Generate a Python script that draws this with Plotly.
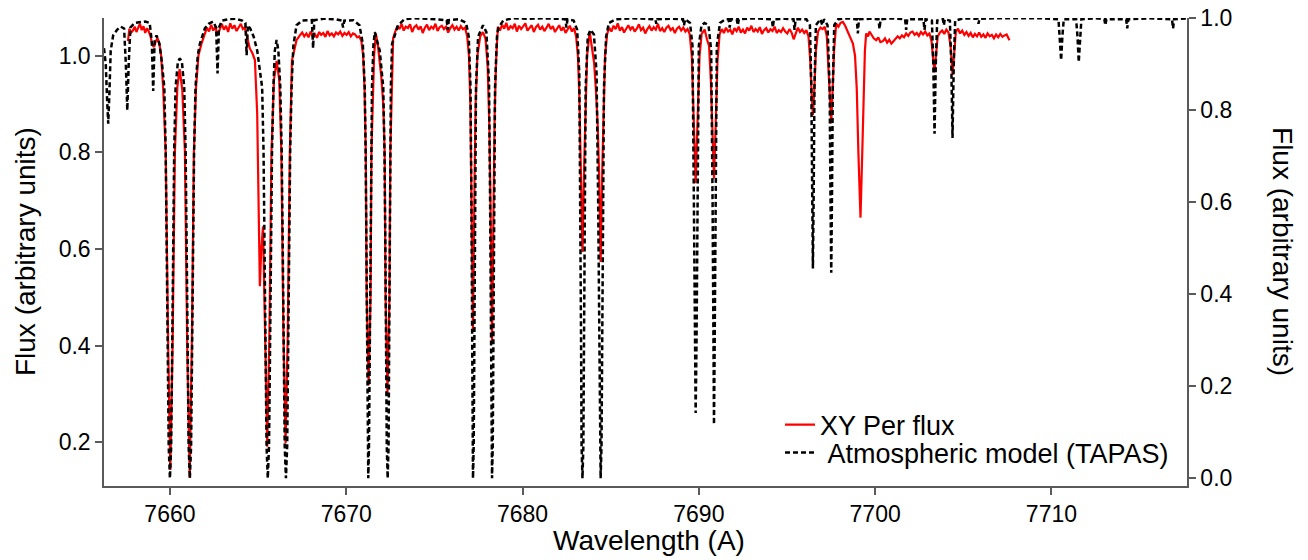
import plotly.graph_objects as go

# ---------------- data ----------------
x_ticks = [7660, 7670, 7680, 7690, 7700, 7710]
left_ticks = [0.2, 0.4, 0.6, 0.8, 1.0]
right_ticks = [0.0, 0.2, 0.4, 0.6, 0.8, 1.0]

red_wavelength = [
    7657.62, 7657.70, 7657.80, 7657.90, 7658.00, 7658.10, 7658.20, 7658.30, 7658.40, 7658.50,
    7658.60, 7658.70, 7658.80, 7658.90, 7659.00, 7659.10, 7659.20, 7659.30, 7659.40, 7659.50,
    7659.62, 7659.76, 7659.90, 7660.02, 7660.15, 7660.28, 7660.42, 7660.55, 7660.70, 7660.85,
    7660.98, 7661.12, 7661.24, 7661.36, 7661.48, 7661.62, 7661.79, 7661.98, 7662.10, 7662.22,
    7662.34, 7662.46, 7662.58, 7662.70, 7662.82, 7662.94, 7663.06, 7663.18, 7663.30, 7663.42,
    7663.54, 7663.66, 7663.78, 7663.90, 7664.02, 7664.14, 7664.25, 7664.40, 7664.53, 7664.68,
    7664.82, 7664.95, 7665.03, 7665.10, 7665.18, 7665.28, 7665.40, 7665.52, 7665.64, 7665.76,
    7665.90, 7666.05, 7666.20, 7666.32, 7666.44, 7666.56, 7666.68, 7666.80, 7666.92, 7667.18,
    7667.37, 7667.50, 7667.62, 7667.74, 7667.86, 7667.98, 7668.10, 7668.22, 7668.34, 7668.46,
    7668.58, 7668.70, 7668.82, 7668.94, 7669.06, 7669.18, 7669.30, 7669.42, 7669.54, 7669.66,
    7669.78, 7669.90, 7670.02, 7670.14, 7670.26, 7670.38, 7670.50, 7670.62, 7670.74, 7670.86,
    7670.96, 7671.04, 7671.11, 7671.16, 7671.27, 7671.38, 7671.43, 7671.50, 7671.58, 7671.68,
    7671.80, 7671.98, 7672.10, 7672.18, 7672.23, 7672.34, 7672.45, 7672.50, 7672.58, 7672.66,
    7672.78, 7672.90, 7673.02, 7673.14, 7673.26, 7673.38, 7673.50, 7673.62, 7673.74, 7673.86,
    7673.98, 7674.10, 7674.22, 7674.34, 7674.46, 7674.58, 7674.70, 7674.82, 7674.94, 7675.06,
    7675.18, 7675.30, 7675.42, 7675.54, 7675.66, 7675.78, 7675.90, 7676.02, 7676.14, 7676.26,
    7676.38, 7676.50, 7676.62, 7676.74, 7676.86, 7676.96, 7677.04, 7677.10, 7677.19, 7677.28,
    7677.34, 7677.44, 7677.60, 7677.76, 7677.90, 7678.02, 7678.12, 7678.18, 7678.27, 7678.36,
    7678.42, 7678.50, 7678.60, 7678.72, 7678.84, 7678.96, 7679.08, 7679.20, 7679.32, 7679.44,
    7679.56, 7679.68, 7679.80, 7679.92, 7680.04, 7680.16, 7680.28, 7680.40, 7680.52, 7680.64,
    7680.76, 7680.88, 7681.00, 7681.12, 7681.24, 7681.36, 7681.48, 7681.60, 7681.72, 7681.84,
    7681.96, 7682.08, 7682.20, 7682.32, 7682.44, 7682.56, 7682.68, 7682.80, 7682.92, 7683.04,
    7683.14, 7683.22, 7683.30, 7683.40, 7683.50, 7683.58, 7683.66, 7683.81, 7683.94, 7684.06,
    7684.16, 7684.26, 7684.34, 7684.43, 7684.52, 7684.60, 7684.68, 7684.80, 7684.92, 7685.04,
    7685.16, 7685.28, 7685.40, 7685.52, 7685.64, 7685.76, 7685.88, 7686.00, 7686.12, 7686.24,
    7686.36, 7686.48, 7686.60, 7686.72, 7686.84, 7686.96, 7687.08, 7687.20, 7687.32, 7687.44,
    7687.56, 7687.68, 7687.80, 7687.92, 7688.04, 7688.16, 7688.28, 7688.40, 7688.52, 7688.64,
    7688.76, 7688.88, 7689.00, 7689.12, 7689.24, 7689.36, 7689.48, 7689.60, 7689.70, 7689.82,
    7689.94, 7690.04, 7690.16, 7690.33, 7690.46, 7690.58, 7690.68, 7690.76, 7690.86, 7690.96,
    7691.06, 7691.18, 7691.30, 7691.42, 7691.54, 7691.66, 7691.78, 7691.90, 7692.02, 7692.14,
    7692.26, 7692.38, 7692.50, 7692.62, 7692.74, 7692.86, 7692.98, 7693.10, 7693.22, 7693.34,
    7693.46, 7693.58, 7693.70, 7693.82, 7693.94, 7694.06, 7694.18, 7694.30, 7694.42, 7694.54,
    7694.66, 7694.78, 7694.90, 7695.02, 7695.14, 7695.26, 7695.38, 7695.50, 7695.62, 7695.74,
    7695.86, 7695.98, 7696.10, 7696.22, 7696.32, 7696.40, 7696.47, 7696.55, 7696.64, 7696.76,
    7696.90, 7697.02, 7697.14, 7697.26, 7697.36, 7697.44, 7697.51, 7697.58, 7697.67, 7697.79,
    7697.92, 7698.04, 7698.17, 7698.30, 7698.45, 7698.60, 7698.74, 7698.86, 7698.96, 7699.05,
    7699.17, 7699.27, 7699.35, 7699.42, 7699.49, 7699.60, 7699.68, 7699.80, 7699.92, 7700.06,
    7700.18, 7700.30, 7700.44, 7700.56, 7700.68, 7700.80, 7700.92, 7701.04, 7701.16, 7701.28,
    7701.40, 7701.52, 7701.64, 7701.76, 7701.88, 7702.00, 7702.12, 7702.24, 7702.36, 7702.48,
    7702.60, 7702.72, 7702.84, 7702.96, 7703.08, 7703.20, 7703.30, 7703.37, 7703.45, 7703.55,
    7703.68, 7703.80, 7703.92, 7704.04, 7704.16, 7704.28, 7704.39, 7704.48, 7704.58, 7704.70,
    7704.82, 7704.94, 7705.06, 7705.18, 7705.30, 7705.42, 7705.54, 7705.66, 7705.78, 7705.90,
    7706.02, 7706.14, 7706.26, 7706.38, 7706.50, 7706.62, 7706.74, 7706.86, 7706.98, 7707.10,
    7707.22, 7707.34, 7707.46, 7707.62,
]

red_flux = [
    1.030, 1.056, 1.048, 1.052, 1.060, 1.049, 1.058, 1.066, 1.053, 1.061,
    1.047, 1.057, 1.050, 1.040, 1.022, 1.018, 1.030, 1.036, 1.025, 1.000,
    0.930, 0.800, 0.400, 0.143, 0.400, 0.800, 0.935, 0.972, 0.930, 0.800,
    0.400, 0.126, 0.400, 0.800, 0.935, 1.001, 1.025, 1.046, 1.058, 1.050,
    1.064, 1.052, 1.060, 1.042, 1.055, 1.066, 1.054, 1.062, 1.049, 1.067,
    1.056, 1.063, 1.051, 1.060, 1.066, 1.055, 1.058, 1.035, 1.015, 1.005,
    0.991, 0.880, 0.700, 0.523, 0.600, 0.647, 0.420, 0.191, 0.420, 0.800,
    0.950, 0.989, 0.950, 0.800, 0.420, 0.198, 0.420, 0.800, 0.990, 1.032,
    1.042, 1.048, 1.040, 1.046, 1.038, 1.050, 1.041, 1.045, 1.037, 1.049,
    1.043, 1.047, 1.039, 1.051, 1.042, 1.046, 1.040, 1.048, 1.044, 1.050,
    1.041, 1.047, 1.043, 1.049, 1.040, 1.046, 1.044, 1.038, 1.040, 1.030,
    1.000, 0.930, 0.800, 0.500, 0.318, 0.500, 0.800, 0.930, 1.000, 1.046,
    1.020, 0.960, 0.900, 0.800, 0.500, 0.301, 0.500, 0.800, 0.940, 1.036,
    1.050, 1.061, 1.055, 1.066, 1.052, 1.060, 1.057, 1.065, 1.049, 1.059,
    1.063, 1.054, 1.061, 1.047, 1.058, 1.064, 1.053, 1.060, 1.056, 1.066,
    1.051, 1.059, 1.062, 1.055, 1.060, 1.048, 1.057, 1.063, 1.054, 1.060,
    1.052, 1.061, 1.055, 1.058, 1.040, 1.000, 0.900, 0.750, 0.429, 0.750,
    0.900, 1.000, 1.040, 1.049, 1.035, 0.980, 0.850, 0.700, 0.408, 0.700,
    0.880, 0.990, 1.060, 1.052, 1.064, 1.056, 1.068, 1.053, 1.061, 1.057,
    1.066, 1.050, 1.062, 1.055, 1.060, 1.067, 1.052, 1.058, 1.063, 1.049,
    1.059, 1.064, 1.054, 1.060, 1.051, 1.058, 1.066, 1.055, 1.061, 1.049,
    1.057, 1.063, 1.052, 1.059, 1.047, 1.056, 1.062, 1.050, 1.057, 1.040,
    1.000, 0.920, 0.780, 0.594, 0.780, 0.920, 1.000, 1.049, 1.020, 0.985,
    0.930, 0.860, 0.760, 0.573, 0.760, 0.900, 1.000, 1.045, 1.058, 1.050,
    1.062, 1.055, 1.067, 1.052, 1.059, 1.048, 1.057, 1.063, 1.054, 1.060,
    1.050, 1.056, 1.065, 1.053, 1.058, 1.046, 1.055, 1.061, 1.052, 1.059,
    1.054, 1.066, 1.051, 1.057, 1.049, 1.058, 1.062, 1.053, 1.057, 1.047,
    1.056, 1.060, 1.052, 1.058, 1.050, 1.055, 1.045, 1.000, 0.880, 0.736,
    0.880, 1.000, 1.045, 1.054, 1.034, 1.020, 0.950, 0.860, 0.746, 0.860,
    0.990, 1.045, 1.055, 1.047, 1.058, 1.050, 1.054, 1.044, 1.057, 1.051,
    1.060, 1.048, 1.054, 1.046, 1.058, 1.052, 1.062, 1.049, 1.055, 1.050,
    1.059, 1.045, 1.053, 1.057, 1.048, 1.055, 1.051, 1.060, 1.047, 1.053,
    1.049, 1.057, 1.050, 1.046, 1.055, 1.048, 1.034, 1.046, 1.058, 1.049,
    1.054, 1.047, 1.053, 1.040, 0.990, 0.920, 0.877, 0.930, 1.010, 1.050,
    1.058, 1.055, 1.060, 1.040, 0.960, 0.900, 0.860, 0.920, 1.010, 1.066,
    1.060, 1.068, 1.070, 1.062, 1.049, 1.035, 1.025, 1.000, 0.930, 0.800,
    0.665, 0.800, 0.930, 1.010, 1.046, 1.040, 1.050, 1.042, 1.036, 1.032,
    1.038, 1.028, 1.030, 1.036, 1.027, 1.033, 1.025, 1.030, 1.034, 1.040,
    1.036, 1.042, 1.038, 1.046, 1.041, 1.048, 1.050, 1.043, 1.047, 1.041,
    1.049, 1.044, 1.050, 1.042, 1.046, 1.030, 0.990, 0.966, 1.000, 1.040,
    1.048, 1.052, 1.045, 1.054, 1.048, 1.020, 0.960, 1.010, 1.050, 1.056,
    1.046, 1.052, 1.043, 1.049, 1.041, 1.047, 1.038, 1.045, 1.040, 1.048,
    1.039, 1.044, 1.037, 1.046, 1.040, 1.043, 1.036, 1.044, 1.038, 1.045,
    1.039, 1.042, 1.044, 1.032,
]

model_wavelength = [
    7656.26, 7656.36, 7656.44, 7656.50, 7656.56, 7656.64, 7656.78, 7657.00, 7657.20, 7657.40,
    7657.50, 7657.58, 7657.66, 7657.76, 7658.00, 7658.30, 7658.60, 7658.85, 7658.97, 7659.05,
    7659.13, 7659.24, 7659.40, 7659.53, 7659.68, 7659.76, 7659.82, 7659.88, 7659.93, 7660.00,
    7660.07, 7660.12, 7660.18, 7660.24, 7660.32, 7660.45, 7660.56, 7660.68, 7660.81, 7660.89,
    7660.95, 7661.01, 7661.06, 7661.13, 7661.20, 7661.25, 7661.31, 7661.37, 7661.45, 7661.58,
    7661.70, 7661.98, 7662.20, 7662.45, 7662.62, 7662.70, 7662.78, 7662.95, 7663.30, 7663.70,
    7664.10, 7664.28, 7664.35, 7664.42, 7664.55, 7664.75, 7664.95, 7665.10, 7665.23, 7665.31,
    7665.37, 7665.43, 7665.48, 7665.55, 7665.62, 7665.67, 7665.73, 7665.79, 7665.87, 7665.95,
    7666.05, 7666.15, 7666.26, 7666.34, 7666.40, 7666.46, 7666.51, 7666.58, 7666.65, 7666.70,
    7666.76, 7666.82, 7666.90, 7667.00, 7667.18, 7667.50, 7668.05, 7668.12, 7668.19, 7668.70,
    7669.40, 7669.75, 7669.82, 7669.89, 7670.40, 7670.75, 7670.94, 7671.05, 7671.10, 7671.14,
    7671.18, 7671.21, 7671.25, 7671.29, 7671.32, 7671.36, 7671.40, 7671.46, 7671.54, 7671.62,
    7671.72, 7671.90, 7672.10, 7672.17, 7672.22, 7672.26, 7672.30, 7672.35, 7672.40, 7672.43,
    7672.46, 7672.49, 7672.53, 7672.60, 7672.94, 7673.30, 7673.90, 7674.60, 7675.20, 7675.70,
    7675.76, 7675.82, 7676.40, 7676.80, 7676.95, 7677.05, 7677.10, 7677.13, 7677.15, 7677.19,
    7677.23, 7677.26, 7677.30, 7677.36, 7677.48, 7677.76, 7677.95, 7678.10, 7678.16, 7678.20,
    7678.23, 7678.27, 7678.31, 7678.34, 7678.38, 7678.44, 7678.55, 7678.62, 7678.90, 7679.40,
    7680.30, 7681.20, 7682.00, 7682.43, 7682.49, 7682.55, 7682.90, 7683.10, 7683.22, 7683.28,
    7683.32, 7683.35, 7683.40, 7683.45, 7683.48, 7683.52, 7683.58, 7683.70, 7683.85, 7684.05,
    7684.20, 7684.29, 7684.34, 7684.38, 7684.43, 7684.48, 7684.52, 7684.56, 7684.62, 7684.74,
    7684.90, 7685.30, 7686.20, 7687.00, 7687.53, 7687.59, 7687.65, 7688.40, 7689.10, 7689.16,
    7689.22, 7689.50, 7689.64, 7689.72, 7689.77, 7689.82, 7689.87, 7689.92, 7690.00, 7690.15,
    7690.33, 7690.55, 7690.70, 7690.78, 7690.82, 7690.86, 7690.90, 7690.94, 7691.02, 7691.20,
    7691.50, 7691.69, 7691.75, 7691.81, 7692.15, 7692.21, 7692.27, 7693.00, 7693.80, 7694.14,
    7694.20, 7694.26, 7694.90, 7695.37, 7695.43, 7695.49, 7696.10, 7696.30, 7696.38, 7696.43,
    7696.47, 7696.51, 7696.56, 7696.64, 7696.90, 7697.00, 7697.10, 7697.30, 7697.42, 7697.47,
    7697.51, 7697.55, 7697.60, 7697.68, 7697.90, 7698.40, 7698.96, 7699.02, 7699.08, 7699.70,
    7700.19, 7700.25, 7700.31, 7701.00, 7701.70, 7701.76, 7701.82, 7702.74, 7702.80, 7702.86,
    7703.22, 7703.30, 7703.37, 7703.44, 7703.52, 7703.85, 7703.90, 7703.95, 7704.24, 7704.32,
    7704.39, 7704.46, 7704.54, 7705.00, 7705.80, 7705.86, 7705.92, 7706.80, 7708.00, 7709.50,
    7710.40, 7710.48, 7710.55, 7710.62, 7710.70, 7711.40, 7711.48, 7711.55, 7711.62, 7711.70,
    7712.50, 7713.00, 7713.06, 7713.12, 7714.24, 7714.30, 7714.36, 7715.50, 7716.84, 7716.90,
    7716.96, 7717.69,
]

model_transmission = [
    0.935, 0.900, 0.820, 0.771, 0.830, 0.930, 0.963, 0.975, 0.982, 0.978,
    0.900, 0.800, 0.900, 0.980, 0.990, 0.992, 0.993, 0.990, 0.950, 0.842,
    0.950, 0.963, 0.945, 0.909, 0.850, 0.710, 0.500, 0.250, 0.070, 0.000,
    0.070, 0.250, 0.500, 0.710, 0.850, 0.905, 0.913, 0.905, 0.850, 0.710,
    0.500, 0.250, 0.070, 0.000, 0.070, 0.250, 0.500, 0.710, 0.850, 0.920,
    0.945, 0.978, 0.988, 0.993, 0.980, 0.880, 0.980, 0.995, 0.998, 0.999,
    0.995, 0.990, 0.920, 0.985, 0.978, 0.960, 0.930, 0.880, 0.850, 0.710,
    0.500, 0.250, 0.070, 0.000, 0.070, 0.250, 0.500, 0.710, 0.850, 0.930,
    0.953, 0.930, 0.850, 0.710, 0.500, 0.250, 0.070, 0.000, 0.070, 0.250,
    0.500, 0.710, 0.850, 0.940, 0.985, 0.995, 0.996, 0.935, 0.996, 0.999,
    0.998, 0.995, 0.980, 0.995, 0.996, 0.985, 0.945, 0.850, 0.710, 0.500,
    0.250, 0.070, 0.000, 0.070, 0.250, 0.500, 0.710, 0.850, 0.940, 0.970,
    0.955, 0.930, 0.850, 0.710, 0.500, 0.250, 0.070, 0.000, 0.070, 0.250,
    0.500, 0.710, 0.850, 0.945, 0.985, 0.998, 1.000, 0.999, 0.998, 0.996,
    0.975, 0.996, 0.998, 0.990, 0.960, 0.850, 0.600, 0.300, 0.070, 0.000,
    0.070, 0.300, 0.600, 0.850, 0.960, 0.985, 0.970, 0.860, 0.600, 0.300,
    0.070, 0.000, 0.070, 0.300, 0.600, 0.850, 0.960, 0.978, 0.995, 1.000,
    0.999, 1.000, 0.999, 0.998, 0.980, 0.998, 0.995, 0.975, 0.880, 0.600,
    0.300, 0.070, 0.000, 0.070, 0.300, 0.600, 0.850, 0.960, 0.975, 0.965,
    0.880, 0.600, 0.300, 0.070, 0.000, 0.070, 0.300, 0.600, 0.850, 0.960,
    0.990, 0.998, 1.000, 0.999, 0.998, 0.988, 0.998, 0.999, 0.998, 0.985,
    0.998, 0.990, 0.940, 0.600, 0.300, 0.142, 0.300, 0.600, 0.940, 0.985,
    0.990, 0.985, 0.930, 0.600, 0.300, 0.117, 0.300, 0.600, 0.940, 0.990,
    0.998, 0.998, 0.980, 0.998, 0.998, 0.985, 0.998, 1.000, 0.999, 0.998,
    0.980, 0.998, 0.999, 0.998, 0.975, 0.998, 0.998, 0.985, 0.850, 0.600,
    0.456, 0.600, 0.850, 0.985, 0.998, 0.985, 0.998, 0.985, 0.850, 0.600,
    0.447, 0.600, 0.850, 0.985, 0.998, 1.000, 0.998, 0.967, 0.998, 0.999,
    0.998, 0.977, 0.998, 1.000, 0.998, 0.975, 0.998, 0.998, 0.975, 0.998,
    0.995, 0.900, 0.749, 0.900, 0.995, 0.998, 0.985, 0.998, 0.995, 0.900,
    0.740, 0.900, 0.995, 1.000, 0.999, 0.988, 0.999, 1.000, 1.000, 1.000,
    0.998, 0.960, 0.909, 0.960, 0.998, 0.998, 0.960, 0.905, 0.960, 0.998,
    1.000, 0.998, 0.985, 0.998, 0.998, 0.978, 0.998, 1.000, 0.998, 0.978,
    0.998, 1.000,
]

# ---------------- figure ----------------
FONT = "Liberation Sans, Arial, Helvetica, sans-serif"
AXIS_GREY = "#5a5a5a"

fig = go.Figure()
fig.add_trace(go.Scatter(
    x=red_wavelength, y=red_flux, mode="lines", name="XY Per flux",
    line=dict(color="#ff0000", width=2.2), legend="legend",
))
fig.add_trace(go.Scatter(
    x=model_wavelength, y=model_transmission, mode="lines",
    name="\u00a0Atmospheric model (TAPAS)", yaxis="y2",
    line=dict(color="#000000", width=2.5, dash="5px,3px"), legend="legend2",
))

axis_common = dict(
    showgrid=False, zeroline=False, showline=True, linecolor=AXIS_GREY, linewidth=1.5,
    ticks="outside", ticklen=7, tickwidth=1.5, tickcolor=AXIS_GREY,
    tickfont=dict(family=FONT, size=23, color="#000"), automargin=False,
    ticklabeloverflow="allow",
)

fig.update_layout(
    width=1308, height=560,
    margin=dict(l=104, r=121, t=18, b=74, pad=0),
    paper_bgcolor="white", plot_bgcolor="white",
    font=dict(family=FONT, color="#000"),
    showlegend=True,
    xaxis=dict(range=[7656.26, 7717.69], tickvals=x_ticks, **axis_common),
    yaxis=dict(range=[0.1096, 1.078], tickvals=left_ticks, tickformat=".1f", **axis_common),
    yaxis2=dict(range=[-0.0167, 1.0007], tickvals=right_ticks, tickformat=".1f",
                overlaying="y", side="right", **axis_common),
    legend=dict(x=0.6242, xanchor="left", y=0.1303, yanchor="middle",
                bgcolor="rgba(0,0,0,0)", borderwidth=0, font=dict(family=FONT, size=27)),
    legend2=dict(x=0.6242, xanchor="left", y=0.0705, yanchor="middle",
                 bgcolor="rgba(0,0,0,0)", borderwidth=0, font=dict(family=FONT, size=27)),
    annotations=[
        dict(text="Wavelength (A)", xref="paper", yref="paper", x=0.503, y=-0.1154,
             xanchor="center", yanchor="middle", showarrow=False, font=dict(family=FONT, size=28)),
        dict(text="Flux (arbitrary units)", xref="paper", yref="paper", x=-0.0729, y=0.5,
             xanchor="center", yanchor="middle", textangle=-90, showarrow=False,
             font=dict(family=FONT, size=28)),
        dict(text="Flux (arbitrary units)", xref="paper", yref="paper", x=1.0886, y=0.5,
             xanchor="center", yanchor="middle", textangle=90, showarrow=False,
             font=dict(family=FONT, size=28)),
    ],
)

# remove the default 8 px page margin so the 1308x560 figure fills the window exactly
fig.write_html(
    "out.html",
    config={"displayModeBar": False},
    post_script="document.body.style.margin='0px';",
)
